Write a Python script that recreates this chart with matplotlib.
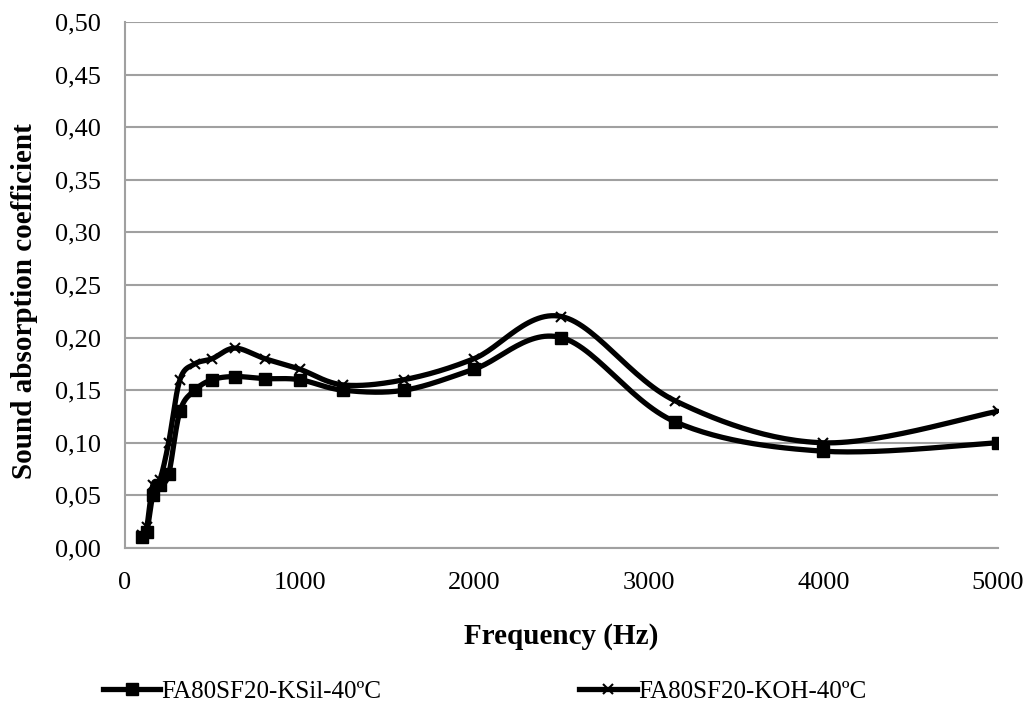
import numpy as np
import matplotlib
matplotlib.use("Agg")
import matplotlib.pyplot as plt
from matplotlib.lines import Line2D
from matplotlib.ticker import FuncFormatter

freq = [100, 125, 160, 200, 250, 315, 400, 500, 630, 800, 1000, 1250, 1600, 2000, 2500, 3150, 4000, 5000]
ksil = [0.010, 0.015, 0.050, 0.060, 0.070, 0.130, 0.150, 0.160, 0.163, 0.161, 0.160, 0.150, 0.150, 0.170, 0.200, 0.120, 0.092, 0.100]
koh = [0.012, 0.020, 0.060, 0.065, 0.100, 0.160, 0.175, 0.180, 0.190, 0.180, 0.170, 0.155, 0.160, 0.180, 0.220, 0.140, 0.100, 0.130]
label_ksil = "FA80SF20-KSil-40ºC"
label_koh = "FA80SF20-KOH-40ºC"

plt.rcParams['font.family'] = ['Liberation Serif', 'DejaVu Serif']


def smooth(x, y, n=30):
    # Excel-like smoothing: Catmull-Rom Bezier segments
    x = np.asarray(x, float)
    y = np.asarray(y, float)
    px = np.concatenate([[x[0]], x, [x[-1]]])
    py = np.concatenate([[y[0]], y, [y[-1]]])
    xs, ys = [], []
    t = np.linspace(0, 1, n)
    for i in range(1, len(px) - 2):
        p0 = np.array([px[i], py[i]])
        p3 = np.array([px[i + 1], py[i + 1]])
        c1 = p0 + (np.array([px[i + 1], py[i + 1]]) - np.array([px[i - 1], py[i - 1]])) / 6
        c2 = p3 - (np.array([px[i + 2], py[i + 2]]) - np.array([px[i], py[i]])) / 6
        b = ((1 - t) ** 3)[:, None] * p0 + (3 * (1 - t) ** 2 * t)[:, None] * c1 + \
            (3 * (1 - t) * t ** 2)[:, None] * c2 + (t ** 3)[:, None] * p3
        xs.extend(b[:, 0])
        ys.extend(b[:, 1])
    return np.array(xs), np.array(ys)


fig = plt.figure(figsize=(10.31, 7.04), dpi=100)
ax = fig.add_axes([0.1212, 0.2216, 0.8468, 0.7472])

lw = 3.8
ms_sq = 8.5
ms_x = 7.5
sx, sy = smooth(freq, ksil)
ax.plot(sx, sy, color='black', lw=lw, solid_capstyle='round', zorder=3)
ax.plot(freq, ksil, ls='none', marker='s', ms=ms_sq, color='black', zorder=4)
sx, sy = smooth(freq, koh)
ax.plot(sx, sy, color='black', lw=lw, solid_capstyle='round', zorder=3)
ax.plot(freq, koh, ls='none', marker='x', ms=ms_x, mew=1.5, color='black', zorder=4)

ax.set_xlim(0, 5000)
ax.set_ylim(0, 0.5)
ax.set_xticks(np.arange(0, 5001, 1000))
ax.set_yticks(np.arange(0, 0.501, 0.05))
ax.yaxis.set_major_formatter(FuncFormatter(lambda v, p: f"{v:.2f}".replace('.', ',')))
ax.grid(axis='y', color='#a0a0a0', lw=1.5, zorder=0)
ax.set_axisbelow(True)
ax.tick_params(axis='both', length=0, labelsize=19, colors='black')
ax.tick_params(axis='y', pad=17)
ax.tick_params(axis='x', pad=17)
for s in ['top', 'right']:
    ax.spines[s].set_visible(False)
for s in ['left', 'bottom']:
    ax.spines[s].set_color('#a0a0a0')
    ax.spines[s].set_linewidth(1.5)

ax.set_xlabel('Frequency (Hz)', fontsize=21, fontweight='bold', labelpad=21)
ax.set_ylabel('Sound absorption coefficient', fontsize=21, fontweight='bold')
ax.yaxis.set_label_coords(-0.1, 0.47)

handles = [
    Line2D([0], [0], color='black', lw=lw, marker='s', ms=ms_sq),
    Line2D([0], [0], color='black', lw=lw, marker='x', ms=ms_x, mew=1.5),
]
fig.legend(handles, [label_ksil, label_koh], loc='center', bbox_to_anchor=(0.47, 0.018),
           ncol=2, frameon=False, fontsize=18, columnspacing=7.9, handlelength=2.3,
           handletextpad=0.05, borderpad=0, borderaxespad=0)

fig.savefig('out.png', dpi=100)
